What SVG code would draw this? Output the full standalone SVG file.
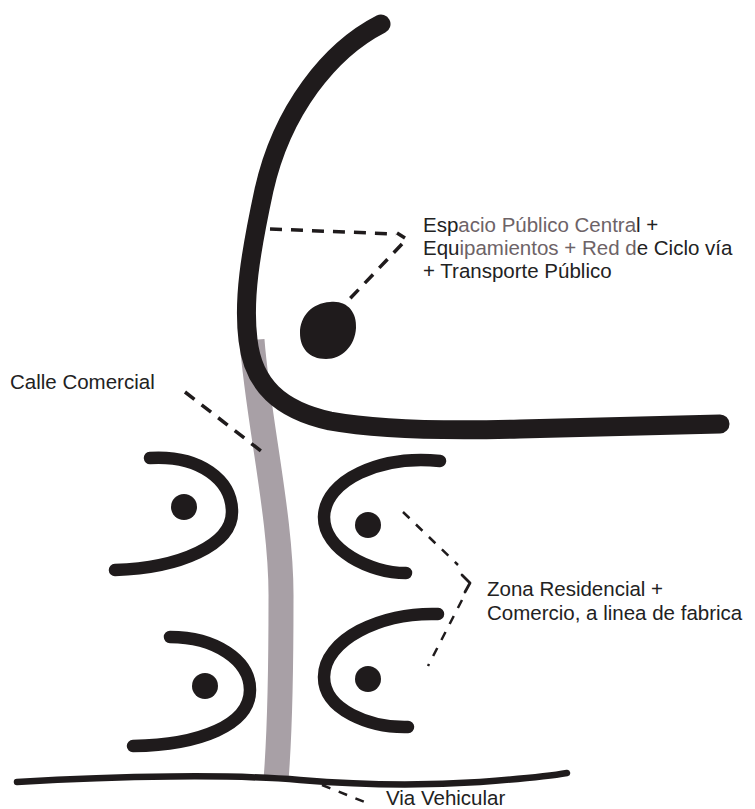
<svg xmlns="http://www.w3.org/2000/svg" width="755" height="809" viewBox="0 0 755 809">
<style>
.ink{fill:none;stroke:#1f1b1c;stroke-linecap:round;stroke-linejoin:round}
.thick{stroke-width:19}
.arc{stroke-width:12.5}
.dot{fill:#1f1b1c}
.street{fill:none;stroke:#a8a0a6;stroke-width:25;stroke-linecap:butt}
.dash1{fill:none;stroke:#1f1b1c;stroke-width:3.5;stroke-dasharray:12 9}
.dash2{fill:none;stroke:#1f1b1c;stroke-width:2.5;stroke-dasharray:9 9}
.lbl{font-family:"Liberation Sans",Arial,sans-serif;font-size:20.5px;fill:#222}
.g{fill:#6d6367}
</style>
<rect width="755" height="809" fill="#fff"/>
<g id="calle-comercial-street">
<path class="street" d="M252,340 C258,420 282,520 281,600 C281,680 280,730 276,780"/>
</g>
<g id="espacio-publico">
<path class="ink thick" d="M381,24 C330,50 282,110 264,190 C250,255 243,300 248,340 C253,385 280,410 330,421 C380,430 450,431 520,429 C600,427 660,425 720,424"/>
<path class="dot" d="M330,302 C347,300 357,312 356,328 C355,346 342,359 326,359 C309,359 300,348 300,333 C300,316 312,303 330,302 Z"/>
</g>
<g id="via-vehicular-line">
<path class="ink" stroke-width="6.5" d="M17,782 C120,776 230,774 300,780 C360,785 420,786 480,782 C520,779 550,776 567,773"/>
</g>
<g id="zona-top-left">
<path class="ink arc" d="M150,458 C200,455 232,480 232,512 C232,545 180,568 115,570"/>
<circle class="dot" cx="184" cy="507" r="13"/>
</g>
<g id="zona-top-right">
<path class="ink arc" d="M440,461 C380,455 325,480 324,517 C324,550 370,573 406,573"/>
<circle class="dot" cx="368" cy="525" r="13"/>
</g>
<g id="zona-bottom-left">
<path class="ink arc" d="M170,637 C215,637 250,660 250,690 C250,725 200,745 133,746"/>
<circle class="dot" cx="205" cy="686" r="13"/>
</g>
<g id="zona-bottom-right">
<path class="ink arc" d="M438,614 C380,612 324,640 324,677 C324,710 370,728 408,727"/>
<circle class="dot" cx="368" cy="679" r="13"/>
</g>
<g id="connectors">
<path class="dash1" d="M270,229 L396,234"/>
<path class="dash1" d="M397,233 L405,238"/>
<path class="dash1" d="M402,244 L343,306"/>
<path class="dash1" d="M185,392 L261,451"/>
<path class="dash2" d="M403,512 L458,565"/>
<path class="ink" stroke-width="2.8" d="M462,575 L470,583 L465,592"/>
<path class="dash2" d="M462,600 L428,666"/>
<path class="dash2" d="M322,785 L372,805"/>
</g>
<g id="label-espacio">
<text class="lbl" x="423" y="232">Esp<tspan class="g">acio Público Centra</tspan>l +</text>
<text class="lbl" x="423" y="255">Equ<tspan class="g">ipamientos + Red d</tspan>e Ciclo vía</text>
<text class="lbl" x="423" y="278">+ Transporte Público</text>
</g>
<g id="label-calle">
<text class="lbl" x="10" y="389">Calle Comercial</text>
</g>
<g id="label-zona">
<text class="lbl" x="487" y="596">Zona Residencial +</text>
<text class="lbl" x="487" y="620">Comercio, a linea de fabrica</text>
</g>
<g id="label-via">
<text class="lbl" x="386" y="805">Via Vehicular</text>
</g>
</svg>
